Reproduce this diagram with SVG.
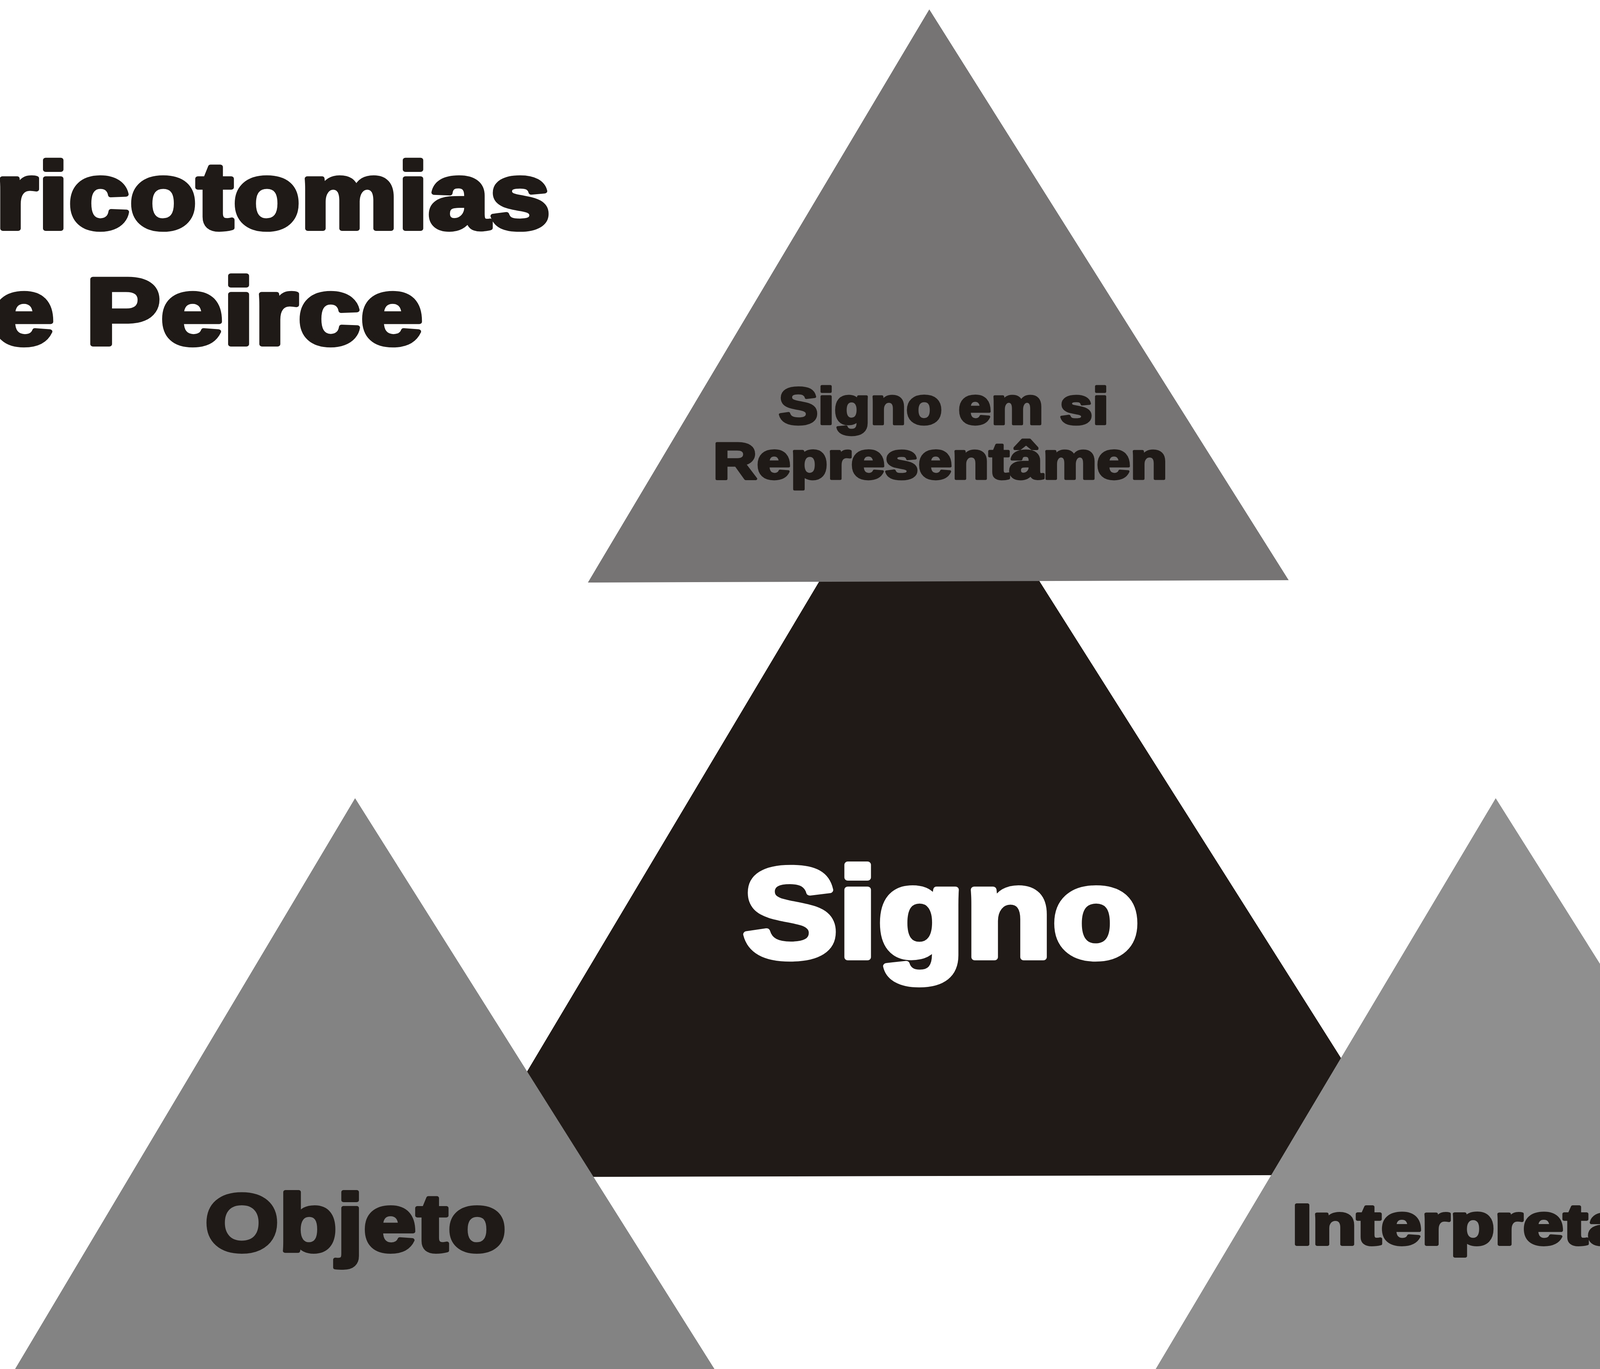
<svg xmlns="http://www.w3.org/2000/svg" width="4753" height="3504" viewBox="0 0 4753 3504">
  <style>
    .lbl { font-family: "Liberation Sans", Arial, sans-serif; font-weight: bold; fill: #1f1a17; stroke: #1f1a17; stroke-linejoin: round; }
    .ttl { font-size: 242px; stroke-width: 12; }
    .white { fill: #ffffff; stroke: #ffffff; }
  </style>
  <rect x="0" y="0" width="4753" height="3504" fill="#ffffff"/>

  <g id="title">
    <text class="lbl ttl" x="-12" y="585" textLength="1421" lengthAdjust="spacingAndGlyphs">ricotomias</text>
    <text class="lbl ttl" x="-21" y="881" textLength="1104" lengthAdjust="spacingAndGlyphs">e Peirce</text>
  </g>

  <g id="node-signo">
    <polygon points="2371,1029 1188,3013 3622,3007" fill="#201a17"/>
    <text class="lbl white" x="2409" y="2450" font-size="327" stroke-width="16" text-anchor="middle" textLength="1016" lengthAdjust="spacingAndGlyphs">Signo</text>
  </g>

  <g id="node-representamen">
    <polygon points="2379,24 1505,1491 3299,1485" fill="#767474"/>
    <text class="lbl" x="2416" y="1085" font-size="131" stroke-width="7" text-anchor="middle" textLength="845" lengthAdjust="spacingAndGlyphs">Signo em si</text>
    <text class="lbl" x="2407" y="1225" font-size="131" stroke-width="7" text-anchor="middle" textLength="1163" lengthAdjust="spacingAndGlyphs">Representâmen</text>
  </g>

  <g id="node-objeto">
    <polygon points="909,2043 35,3510 1829,3504" fill="#838383"/>
    <text class="lbl" x="910" y="3202" font-size="207" stroke-width="10" text-anchor="middle" textLength="771" lengthAdjust="spacingAndGlyphs">Objeto</text>
  </g>

  <g id="node-interpretante">
    <polygon points="3829,2043 2955,3510 4749,3504" fill="#8f8f8f"/>
    <text class="lbl" x="3878" y="3185" font-size="147" stroke-width="8" text-anchor="middle" textLength="1141" lengthAdjust="spacingAndGlyphs">Interpretante</text>
  </g>

  <g id="connectors"/>
</svg>
